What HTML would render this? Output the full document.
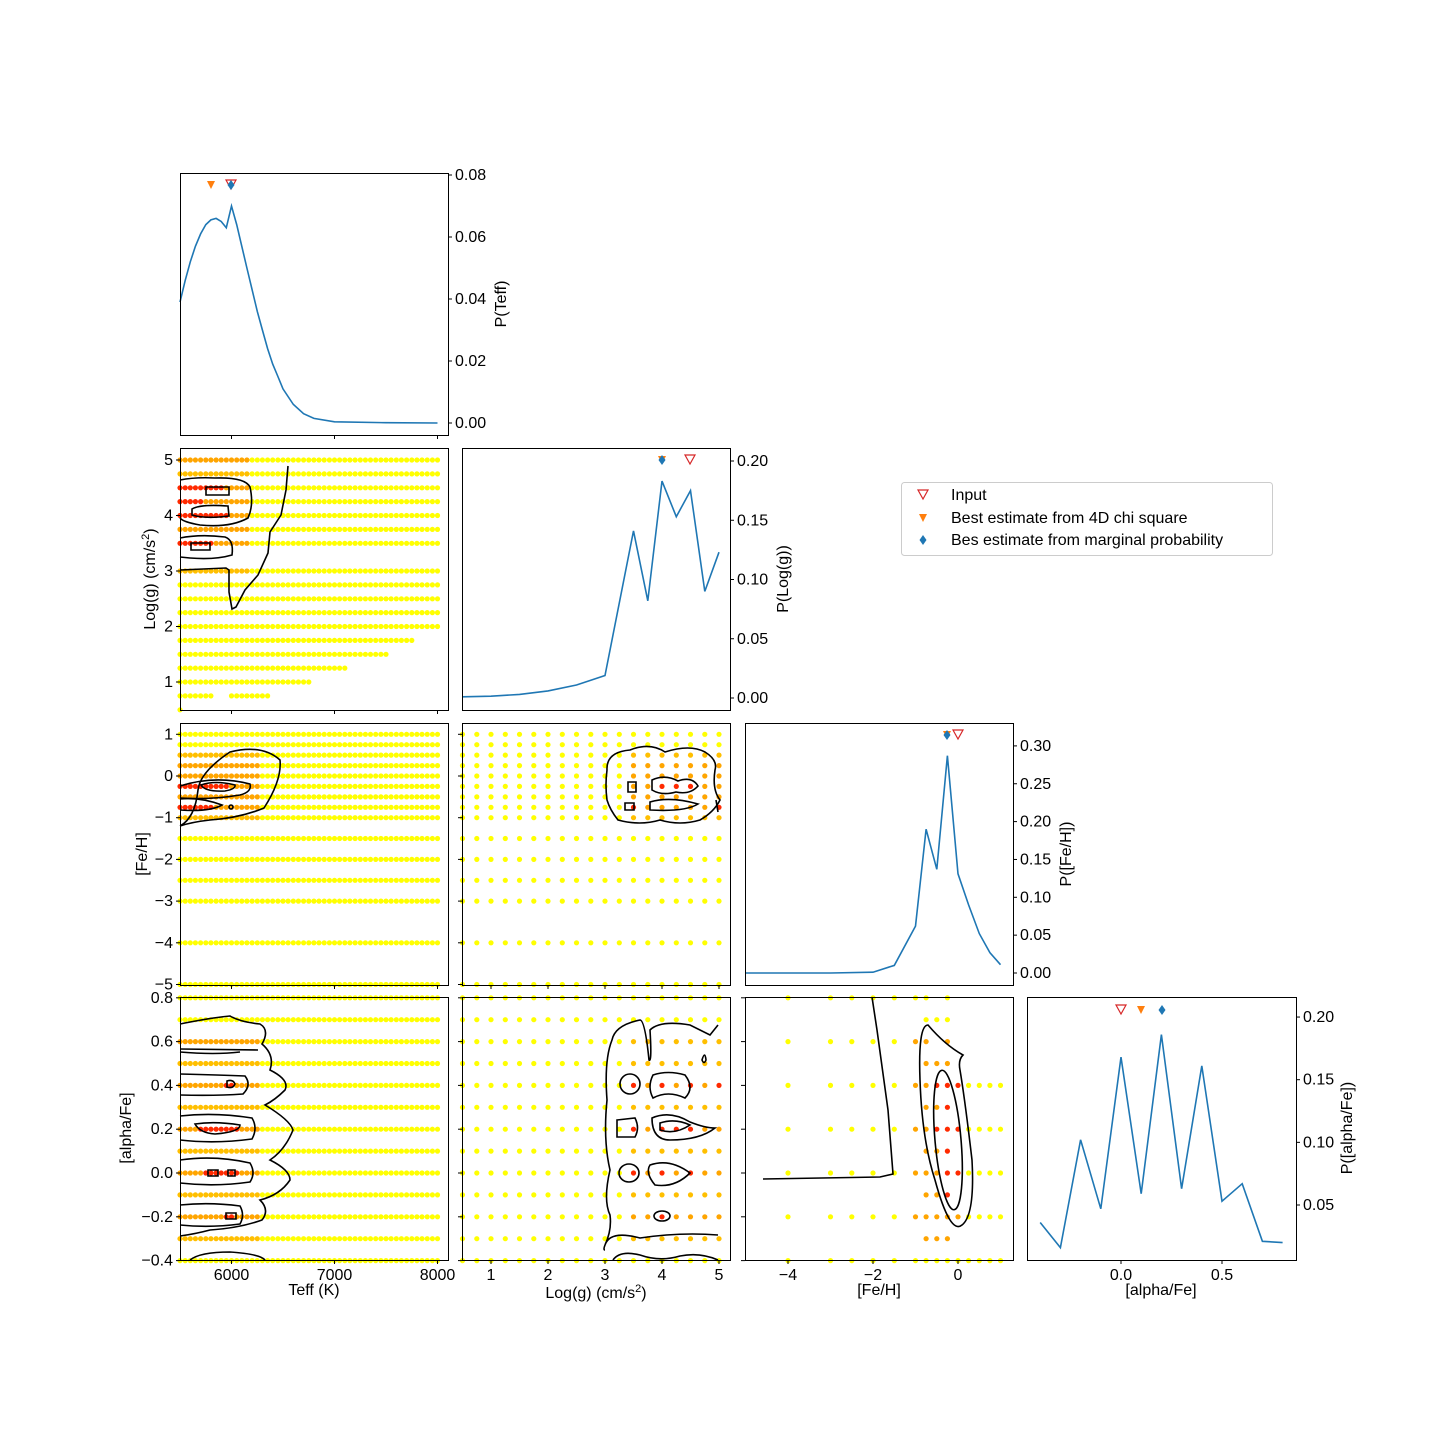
<!DOCTYPE html>
<html><head><meta charset="utf-8"><style>
body{margin:0;background:#fff}
svg{display:block;font-family:"Liberation Sans",sans-serif}
text{font-size:16px;fill:#000}
</style></head><body>
<svg id="s" width="1440" height="1440" viewBox="0 0 1440 1440" xmlns="http://www.w3.org/2000/svg">
<g id="dots"></g>
<g fill="none" stroke="#000" stroke-width="1.6">
<path d="M288,466 L286,490 L281,515 L270,532 L268,553 L258,575 L245,590 L236,607 L232,609 L229,592 L229,570 L226,568 L180,570"/>
<path d="M180,480 Q195,477 215,478 Q245,477 250,487 Q254,505 248,518 Q230,528 200,525 Q183,522 180,518"/>
<path d="M206,487 L229,487 L229,495 L206,495 Z"/>
<path d="M192,509 Q200,504 228,506 L229,516 Q205,519 192,515 Z"/>
<path d="M180,538 Q200,534 225,537 Q234,540 232,555 Q215,560 190,558 L180,557"/>
<path d="M191,543 L210,543 L210,550 L191,550 Z"/>
<path d="M180,826 Q195,818 198,790 Q200,772 230,752 Q262,744 280,760 Q282,780 264,808 Q240,818 210,820 Q192,822 180,826"/>
<path d="M180,786 Q215,775 250,784 Q252,792 240,795 Q210,800 180,798"/>
<path d="M201,785 Q215,780 235,785 Q236,789 225,791 Q205,792 201,785 Z"/>
<path d="M180,799 Q200,797 222,805 Q210,812 180,810"/>
<circle cx="231" cy="807" r="2"/>
<path d="M607,770 Q606,752 630,750 Q650,742 665,752 Q690,744 705,752 Q718,760 715,770 Q712,790 720,800 Q714,812 700,820 Q680,826 660,820 Q640,826 618,820 Q610,810 607,800 Q605,785 607,770 Z"/>
<path d="M628,782 L636,782 L636,792 L628,792 Z"/>
<path d="M652,780 Q665,774 678,781 Q692,776 698,786 Q690,795 676,792 Q662,796 652,790 Z"/>
<path d="M625,803 L634,803 L634,810 L625,810 Z"/>
<path d="M650,802 Q670,796 698,804 Q685,812 650,810 Z"/>
<path d="M716,800 L718,812"/>
<path d="M605,1250 Q603,1250 605,1245 Q610,1230 640,1238 Q680,1232 718,1235 M605,1245 Q612,1230 610,1215 Q603,1200 610,1170 Q603,1140 607,1100 Q604,1060 612,1040 Q615,1025 640,1020 Q645,1020 649,1060 Q652,1063 650,1030 Q660,1020 690,1025 Q700,1030 710,1035 L718,1025"/>
<path d="M702,1060 Q705,1050 706,1060 Q704,1065 702,1060 Z"/>
<ellipse cx="630" cy="1084" rx="10" ry="10"/>
<path d="M653,1075 Q668,1070 685,1075 Q695,1088 685,1098 Q668,1090 653,1098 Q647,1087 653,1075 Z"/>
<path d="M617,1120 L635,1118 Q640,1128 635,1137 L617,1137 Z"/>
<path d="M652,1118 Q670,1110 690,1122 Q705,1128 715,1128 Q700,1140 670,1140 Q652,1140 652,1118 Z"/>
<path d="M660,1123 Q675,1118 690,1125 Q675,1135 660,1130 Z"/>
<ellipse cx="629" cy="1173" rx="10" ry="9"/>
<path d="M650,1165 Q670,1158 690,1173 Q675,1188 655,1185 Q645,1173 650,1165 Z"/>
<ellipse cx="662" cy="1216" rx="8" ry="5"/>
<path d="M613,1260 Q620,1250 640,1255 Q660,1262 680,1256 Q700,1252 718,1260"/>
<path d="M763,1179 L880,1177 L893,1174 L888,1110 L877,1030 L872,997"/>
<path d="M928,1025 Q918,1025 920,1080 Q922,1140 935,1180 Q950,1235 962,1225 Q975,1215 972,1160 Q965,1100 960,1070 Q958,1060 963,1055 Q945,1045 928,1025 Z"/>
<ellipse cx="948" cy="1140" rx="13" ry="70" transform="rotate(-5 948 1140)"/>
<path d="M180,1024 Q210,1018 230,1016 Q240,1022 260,1024 Q270,1030 262,1044 Q275,1055 270,1070 Q290,1080 285,1090 Q275,1100 265,1105 Q290,1120 293,1130 Q285,1150 270,1160 Q290,1170 290,1180 Q280,1195 260,1200 Q270,1210 262,1220 Q240,1228 210,1230 Q195,1234 180,1236"/>
<path d="M180,1049 L258,1050 M180,1052 Q215,1055 240,1052"/>
<path d="M180,1074 Q220,1075 245,1076 Q252,1085 243,1094 Q215,1096 180,1095"/>
<path d="M227,1081 Q233,1079 235,1084 Q233,1089 227,1087 Z"/>
<path d="M180,1116 Q215,1112 252,1118 Q258,1128 252,1139 Q215,1144 180,1140"/>
<path d="M195,1124 Q215,1121 240,1125 Q240,1132 215,1134 Q200,1133 195,1124 Z"/>
<path d="M180,1160 Q215,1155 250,1163 Q256,1173 250,1182 Q215,1187 180,1183"/>
<path d="M208,1170 L218,1170 L218,1176 L208,1176 Z M228,1170 L235,1170 L235,1176 L228,1176 Z"/>
<path d="M180,1205 Q210,1202 240,1206 Q245,1215 240,1224 Q210,1228 180,1225"/>
<path d="M226,1213 L236,1213 L236,1219 L226,1219 Z"/>
<path d="M190,1260 Q200,1252 230,1252 Q260,1254 265,1260"/>
</g>
<g id="lines" fill="none" stroke="#1f77b4" stroke-width="1.6"></g>
<g id="axes"></g>
<rect x="901.5" y="482.5" width="371" height="73" rx="3" fill="#fff" stroke="#ccc"/>
<polygon points="918,490 928,490 923,499" fill="none" stroke="#d62728" stroke-width="1.2"/>
<text x="951" y="500">Input</text>
<polygon points="919,514 927,514 923,522" fill="#ff7f0e"/>
<text x="951" y="523">Best estimate from 4D chi square</text>
<polygon points="923,535 926.5,540 923,545 919.5,540" fill="#1f77b4"/>
<text x="951" y="545">Bes estimate from marginal probability</text>
</svg>
<script>
let D='';
const Y='#ffff00',O='#ffa500',O2='#ffbf00',R='#ff2a00';
function dot(x,y,c,x0,x1,y0,y1){if(x<x0-1||x>x1+1||y<y0-1||y>y1+1)return;D+=`<circle cx="${x.toFixed(1)}" cy="${y.toFixed(1)}" r="2.6" fill="${c}"/>`;}
const X1=t=>180+(t-5500)*0.103, Y2=g=>460+(5-g)*55.5, X2=g=>491+(g-1)*57, Y3=f=>776-f*41.7, X3=f=>958+f*42.5, Y4=a=>1173-a*219, X4=a=>1121+a*202;
const C1=[180,448],C2=[462,730],C3=[745,1013],C4=[1027,1296];
const R2=[448,710],R3=[723,985],R4=[997,1260];
let G=[];for(let g=5;g>=3.5;g-=0.25)G.push(+g.toFixed(2));for(let g=3;g>=0.5;g-=0.25)G.push(+g.toFixed(2));
const F=[1,0.75,0.5,0.25,0,-0.25,-0.5,-0.75,-1,-1.5,-2,-2.5,-3,-4,-5];
let A=[];for(let a=-0.4;a<=0.81;a+=0.1)A.push(+a.toFixed(1));
let GG=[];for(let g=0.5;g<=5.01;g+=0.25)GG.push(+g.toFixed(2));
const maxT={1.75:7750,1.5:7500,1.25:7100,1:6750,0.75:6350,0.5:5500};
G.forEach(g=>{let mx=maxT[g]||8000;for(let t=5500;t<=mx;t+=50){if(g==0.75&&t>5800&&t<6000)continue;let c=Y;
 if(g>=3){if(t<6200)c=(g==3||g==4.75)?O2:O;
 if((g==4.5&&t<=5900)||(g==4&&t<=5950)||(g==3.5&&t<=5800)||(g==4.25&&t<=5700))c=R;}
 dot(X1(t),Y2(g),c,...C1,...R2);}});
F.forEach(f=>{for(let t=5500;t<=8000;t+=50){let c=Y;
 if(f<=0.5&&f>=-1&&t<6300)c=(f==0.5||f==-1)?O2:O;
 if((f==-0.25&&t<=5950)||(f==-0.75&&t<=5800))c=R;
 dot(X1(t),Y3(f),c,...C1,...R3);}});
F.forEach(f=>GG.forEach(g=>{let c=Y;if(g>=3.5&&f<=0.5&&f>=-1)c=(f==0.5||f==-1)?O2:O;
 if(f==-0.25&&g>=4&&g<=4.5)c=R;if(f==-0.75&&(g==3.5||g==5))c=R;
 dot(X2(g),Y3(f),c,...C2,...R3);}));
A.forEach(a=>{for(let t=5500;t<=8000;t+=50){let c=Y;const ev=Math.round(a*10)%2==0;
 if(a>=-0.3&&a<=0.6&&t<6300)c=ev?O:O2;
 if((a==0.4&&t>=5950&&t<=6000)||(a==0.2&&t>=5700&&t<=6050)||(a==0&&t>=5750&&t<=6050)||(a==-0.2&&t>=5950&&t<=6000))c=R;
 dot(X1(t),Y4(a),c,...C1,...R4);}});
const red42=['3.5,0.4','4,0.4','4.5,0.4','5,0.4','3.5,0.2','4,0.2','4.25,0.2','4.5,0.2','3.5,0','4,0','4.5,0','4,-0.2'];
A.forEach(a=>GG.forEach(g=>{let c=Y;if(g>=3.5&&a>=-0.3&&a<=0.6)c=O2;if(g>=3.5&&Math.round(a*10)%2==0&&a>=-0.2&&a<=0.4)c=O;
 if(red42.includes(g+','+a))c=R;dot(X2(g),Y4(a),c,...C2,...R4);}));
const FX=[-4,-3,-2.5,-2,-1.5,-1,-0.75,-0.5,-0.25,0,0.25,0.5,0.75,1];
A.forEach(a=>{const ev=Math.round(a*10)%2==0;FX.forEach(f=>{let c=Y;
 if(!ev&&!(f>=-0.75&&f<=-0.25))return;
 if(ev&&a>=0.6&&f>-0.75&&f!=-0.25)return;
 if(f>=-1&&f<=0&&a>=-0.3&&a<=0.6)c=O;
 if((f==-0.25&&a>=-0.1&&a<=0.4)||(f==-0.5&&(a==0.4||a==0.2))||(f==0&&(a==0.4||a==0.2||a==0.0)))c=R;
 if(a==-0.3&&f==-0.25)c=O;
 dot(X3(f),Y4(a),c,...C3,...R4);});});
document.getElementById('dots').innerHTML=D;
function pl(pts,fx,fy){return `<polyline points="${pts.map(p=>fx(p[0]).toFixed(1)+','+fy(p[1]).toFixed(1)).join(' ')}"/>`;}
let L='';
L+=pl([[5500,0.039],[5550,0.046],[5600,0.052],[5650,0.057],[5700,0.061],[5750,0.064],[5800,0.0655],[5850,0.066],[5900,0.065],[5950,0.063],[6000,0.070],[6050,0.064],[6100,0.057],[6150,0.050],[6200,0.043],[6250,0.036],[6300,0.030],[6350,0.024],[6400,0.019],[6450,0.015],[6500,0.011],[6600,0.006],[6700,0.003],[6800,0.0015],[7000,0.0004],[7500,0.0001],[8000,0]],X1,p=>423-p*3100);
L+=pl([[0.5,0.001],[1,0.0015],[1.5,0.003],[2,0.006],[2.5,0.011],[2.75,0.015],[3,0.019],[3.5,0.141],[3.75,0.082],[4,0.183],[4.25,0.153],[4.5,0.175],[4.75,0.09],[5,0.123]],X2,p=>698-p*1185);
L+=pl([[-5,0],[-4,0],[-3,0],[-2,0.001],[-1.5,0.01],[-1,0.062],[-0.75,0.19],[-0.5,0.137],[-0.25,0.287],[0,0.131],[0.25,0.09],[0.5,0.052],[0.75,0.027],[1,0.011]],X3,p=>973-p*757);
L+=pl([[-0.4,0.036],[-0.3,0.016],[-0.2,0.102],[-0.1,0.047],[0,0.168],[0.1,0.059],[0.2,0.186],[0.3,0.063],[0.4,0.161],[0.5,0.053],[0.6,0.067],[0.7,0.021],[0.8,0.02]],X4,p=>1205-(p-0.05)*1253);
document.getElementById('lines').innerHTML=L;
let S='';
function box(x0,x1,y0,y1){S+=`<rect x="${x0+.5}" y="${y0+.5}" width="${x1-x0}" height="${y1-y0}" fill="none" stroke="#000" stroke-width="1"/>`;}
function xt(x,y,lab){S+=`<line x1="${x}" y1="${y}" x2="${x}" y2="${y+4}" stroke="#000"/>`;if(lab!==undefined)S+=`<text x="${x}" y="${y+20}" text-anchor="middle">${lab}</text>`;}
function yl(x,y,lab){S+=`<line x1="${x}" y1="${y}" x2="${x-4}" y2="${y}" stroke="#000"/>`;if(lab!==undefined)S+=`<text x="${x-7}" y="${y+5}" text-anchor="end">${lab}</text>`;}
function yr(x,y,lab){S+=`<line x1="${x}" y1="${y}" x2="${x+4}" y2="${y}" stroke="#000"/>`;S+=`<text x="${x+7}" y="${y+5}">${lab}</text>`;}
const m='\u2212';
const panels=[[C1,[173,435]],[C1,R2],[C2,R2],[C1,R3],[C2,R3],[C3,R3],[C1,R4],[C2,R4],[C3,R4],[C4,R4]];
panels.forEach(([c,r])=>box(c[0],c[1],r[0],r[1]));
[[173,435],R2,R3].forEach(r=>[6000,7000,8000].forEach(t=>xt(X1(t),r[1])));
[6000,7000,8000].forEach(t=>xt(X1(t),1260,t));
[R3].forEach(r=>[1,2,3,4,5].forEach(g=>xt(X2(g),r[1])));
[1,2,3,4,5].forEach(g=>xt(X2(g),1260,g));
[-4,-2,0].forEach(f=>xt(X3(f),1260,f<0?m+(-f):f));
[0,0.5].forEach(a=>xt(X4(a),1260,a.toFixed(1)));
[0.08,0.06,0.04,0.02,0].forEach(p=>yr(448,423-p*3100,p.toFixed(2)));
[0.2,0.15,0.1,0.05,0].forEach(p=>yr(730,698-p*1185,p.toFixed(2)));
[0.3,0.25,0.2,0.15,0.1,0.05,0].forEach(p=>yr(1013,973-p*757,p.toFixed(2)));
[0.2,0.15,0.1,0.05].forEach(p=>yr(1296,1205-(p-0.05)*1253,p.toFixed(2)));
[5,4,3,2,1].forEach(g=>yl(180,Y2(g),g));
[1,0,-1,-2,-3,-4,-5].forEach(f=>{yl(180,Y3(f),f<0?m+(-f):f);yl(462,Y3(f));});
[0.8,0.6,0.4,0.2,0,-0.2,-0.4].forEach(a=>{yl(180,Y4(a),a<0?m+(-a).toFixed(1):a.toFixed(1));yl(462,Y4(a));yl(745,Y4(a));});
S+=`<text x="314" y="1295" text-anchor="middle">Teff (K)</text>`;
S+=`<text x="596" y="1298" text-anchor="middle">Log(g) (cm/s<tspan dy="-6" font-size="11">2</tspan><tspan dy="6">)</tspan></text>`;
S+=`<text x="879" y="1295" text-anchor="middle">[Fe/H]</text>`;
S+=`<text x="1161" y="1295" text-anchor="middle">[alpha/Fe]</text>`;
function ylab(x,y,t){S+=`<text transform="translate(${x},${y}) rotate(-90)" text-anchor="middle">${t}</text>`;}
ylab(155,579,'Log(g) (cm/s<tspan dy="-6" font-size="11">2</tspan><tspan dy="6">)</tspan>');
ylab(147,854,'[Fe/H]');ylab(131,1128,'[alpha/Fe]');
ylab(506,304,'P(Teff)');ylab(788,579,'P(Log(g))');ylab(1071,854,'P([Fe/H])');ylab(1352,1128,'P([alpha/Fe])');
function tri(x,y,fill){S+=fill?`<polygon points="${x-4},${y-4} ${x+4},${y-4} ${x},${y+4}" fill="#ff7f0e"/>`:`<polygon points="${x-5},${y-5} ${x+5},${y-5} ${x},${y+4}" fill="none" stroke="#d62728" stroke-width="1.2"/>`;}
function dia(x,y){S+=`<polygon points="${x},${y-5} ${x+3.5},${y} ${x},${y+5} ${x-3.5},${y}" fill="#1f77b4"/>`;}
tri(211,185,1);tri(231,185,0);dia(231,185);
tri(662,460,1);dia(662,460);tri(690,460,0);
tri(947,735,1);dia(947,735);tri(958,735,0);
tri(1121,1010,0);tri(1141,1010,1);dia(1162,1010);
document.getElementById('axes').innerHTML=S;
</script>
</body></html>
